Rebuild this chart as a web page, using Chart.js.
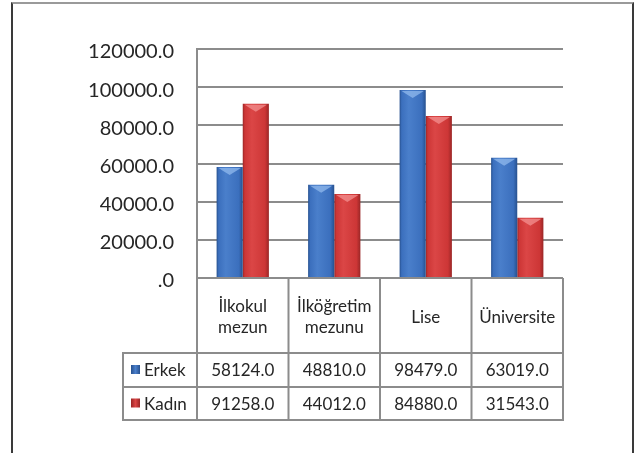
<!DOCTYPE html>
<html>
<head>
<meta charset="utf-8">
<script src="https://cdn.jsdelivr.net/npm/chart.js@4.4.1/dist/chart.umd.min.js"></script>
<style>
  html, body { margin: 0; padding: 0; background: #fff; overflow: hidden; }
  #frame { position: absolute; left: 11px; top: 2px; width: 619px; height: 480px;
           border: 2px solid #3a3a3a; border-top-color: #9a9a9a; }
  #chart { position: absolute; left: 0; top: 0; }
</style>
</head>
<body>
<div id="frame"></div>
<canvas id="chart" width="638" height="453"></canvas>
<script>
// data
const categories = [['İlkokul', 'mezun'], ['İlköğretim', 'mezunu'], ['Lise'], ['Üniversite']];
const seriesNames = ['Erkek', 'Kadın'];
const erkekValues = [58124, 48810, 98479, 63019];
const kadinValues = [91258, 44012, 84880, 31543];
const yTicks = [0, 20000, 40000, 60000, 80000, 100000, 120000];

const FONT = 'Lato, "Open Sans", sans-serif';
const LINE = '#8c8c8c';
const palettes = [
  { dark: '#27518f', mid: '#3b6fbd', light: '#4a7fcb', cap: 'rgba(150,190,240,0.7)' },
  { dark: '#9a2626', mid: '#cd3636', light: '#db4646', cap: 'rgba(245,150,150,0.7)' }
];

const fmt = v => v === 0 ? '.0' : v.toFixed(1);

// shade bars left-to-right like the bevelled Excel columns
const barShade = {
  id: 'barShade',
  beforeDatasetsDraw(chart) {
    const ctx = chart.ctx;
    chart.data.datasets.forEach((ds, di) => {
      const pal = palettes[di];
      chart.getDatasetMeta(di).data.forEach(el => {
        const { x, width } = el.getProps(['x', 'width'], true);
        const g = ctx.createLinearGradient(x - width / 2, 0, x + width / 2, 0);
        g.addColorStop(0, pal.dark);
        g.addColorStop(0.08, pal.mid);
        g.addColorStop(0.35, pal.light);
        g.addColorStop(0.85, pal.mid);
        g.addColorStop(1, pal.dark);
        el.options = Object.assign({}, el.options, { backgroundColor: g });
      });
    });
  },
  afterDatasetsDraw(chart) {
    const ctx = chart.ctx;
    chart.data.datasets.forEach((ds, di) => {
      const pal = palettes[di];
      chart.getDatasetMeta(di).data.forEach(el => {
        const { x, y, width } = el.getProps(['x', 'y', 'width'], true);
        const l = x - width / 2 + 2, r = x + width / 2 - 2;
        ctx.save();
        ctx.fillStyle = pal.cap;
        ctx.beginPath();
        ctx.moveTo(l, y + 1);
        ctx.lineTo(r, y + 1);
        ctx.lineTo(r - 3, y + 3);
        ctx.lineTo(x, y + 8);
        ctx.lineTo(l + 3, y + 3);
        ctx.closePath();
        ctx.fill();
        ctx.restore();
      });
    });
  }
};

// data table under the plot, aligned to the category scale
const dataTable = {
  id: 'dataTable',
  afterDraw(chart) {
    const ctx = chart.ctx;
    const xs = chart.scales.x;
    const area = chart.chartArea;
    const headTop = area.bottom, headBot = headTop + 75;
    const rowH = [34, 33];
    const legLeft = area.left - 74;
    const bounds = categories.map((c, i) => xs.getPixelForValue(i - 0.5));
    bounds.push(xs.getPixelForValue(categories.length - 0.5));
    const tableBot = headBot + rowH[0] + rowH[1];
    const values = [erkekValues, kadinValues];

    ctx.save();
    ctx.strokeStyle = LINE;
    ctx.lineWidth = 2;
    ctx.beginPath();
    bounds.forEach(bx => { ctx.moveTo(bx, headTop); ctx.lineTo(bx, tableBot); });
    ctx.moveTo(legLeft, headBot); ctx.lineTo(legLeft, tableBot);
    let yy = headBot;
    ctx.moveTo(legLeft - 1, yy); ctx.lineTo(area.right + 1, yy);
    rowH.forEach(h => { yy += h; ctx.moveTo(legLeft - 1, yy); ctx.lineTo(area.right + 1, yy); });
    ctx.stroke();

    ctx.fillStyle = '#262626';
    ctx.font = '17px ' + FONT;
    ctx.textAlign = 'center';
    ctx.textBaseline = 'middle';
    const headMid = (headTop + headBot) / 2;
    categories.forEach((lines, i) => {
      const cx = xs.getPixelForValue(i);
      lines.forEach((t, k) => {
        ctx.fillText(t, cx, headMid + 2 + (k - (lines.length - 1) / 2) * 21);
      });
    });

    let top = headBot;
    seriesNames.forEach((name, si) => {
      const mid = top + rowH[si] / 2;
      values[si].forEach((v, i) => {
        ctx.fillStyle = '#262626';
        ctx.textAlign = 'center';
        ctx.fillText(fmt(v), xs.getPixelForValue(i), mid + 1);
      });
      const pal = palettes[si];
      const g = ctx.createLinearGradient(legLeft + 8, 0, legLeft + 17, 0);
      g.addColorStop(0, pal.dark); g.addColorStop(0.5, pal.light); g.addColorStop(1, pal.dark);
      ctx.fillStyle = g;
      ctx.fillRect(legLeft + 8, mid - 5, 9, 9);
      ctx.fillStyle = '#262626';
      ctx.textAlign = 'left';
      ctx.fillText(name, legLeft + 21, mid + 1);
      top += rowH[si];
    });
    ctx.restore();
  }
};

new Chart(document.getElementById('chart'), {
  type: 'bar',
  data: {
    labels: categories,
    datasets: [
      { label: seriesNames[0], data: erkekValues, backgroundColor: palettes[0].mid, borderWidth: 0 },
      { label: seriesNames[1], data: kadinValues, backgroundColor: palettes[1].mid, borderWidth: 0 }
    ]
  },
  options: {
    responsive: false,
    animation: false,
    events: [],
    layout: { padding: { left: 20, right: 75, top: 49, bottom: 175 } },
    datasets: { bar: { barPercentage: 1, categoryPercentage: 4 / 7 } },
    plugins: { legend: { display: false }, tooltip: { enabled: false } },
    scales: {
      x: { display: false },
      y: {
        min: 0,
        max: yTicks[yTicks.length - 1],
        afterBuildTicks: axis => { axis.ticks = yTicks.map(v => ({ value: v })); },
        afterFit: scale => { scale.width = 177; },
        grid: { color: LINE, lineWidth: 2, drawTicks: false },
        border: { color: LINE, width: 2 },
        ticks: {
          padding: 23,
          labelOffset: 3,
          color: '#262626',
          font: { family: FONT, size: 20 },
          callback: v => fmt(v)
        }
      }
    }
  },
  plugins: [barShade, dataTable]
});
</script>
</body>
</html>
